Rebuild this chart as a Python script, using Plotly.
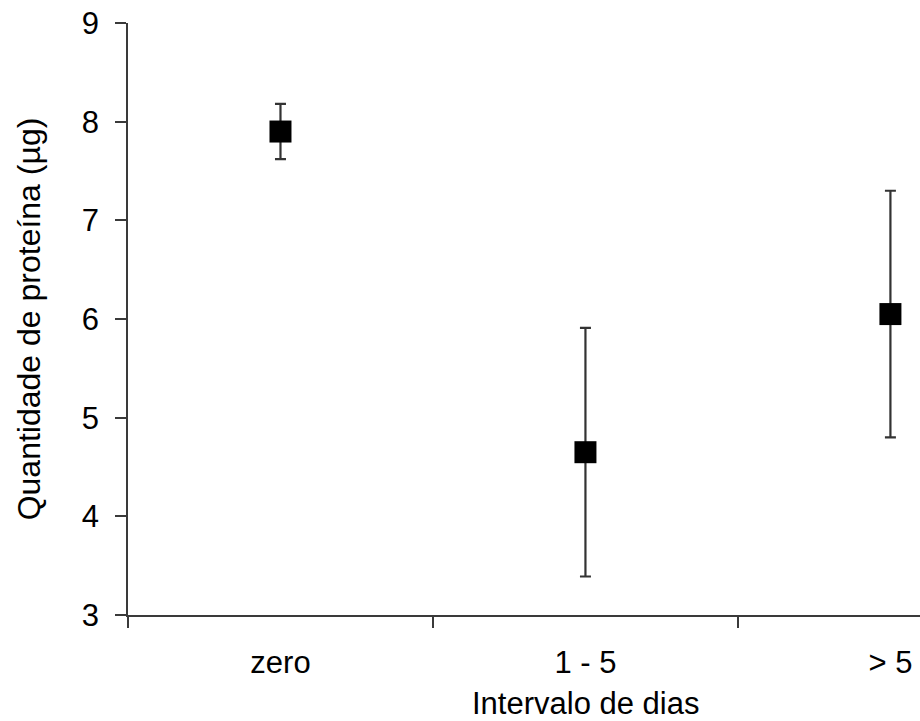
import plotly.graph_objects as go

# Protein amount by interval of days (mean ± error)
categories = ["zero", "1 - 5", "> 5"]
protein_mean = [7.9, 4.65, 6.05]
protein_err = [0.28, 1.26, 1.25]
y_ticks = [3, 4, 5, 6, 7, 8, 9]

positions = list(range(len(categories)))
boundaries = [p - 0.5 for p in positions]

FONT = "Liberation Sans, Arial, sans-serif"
AXIS_COLOR = "#3a3a3a"
FS = 31

fig = go.Figure()
fig.add_trace(go.Scatter(
    x=positions,
    y=protein_mean,
    mode="markers",
    marker=dict(symbol="square", size=22, color="black", line=dict(width=0)),
    error_y=dict(type="data", array=protein_err, visible=True,
                 color="#333333", thickness=2.2, width=5.5),
    showlegend=False,
))

# invisible trace to activate the category label axis
fig.add_trace(go.Scatter(x=positions, y=protein_mean, xaxis="x2", mode="markers",
                         marker=dict(opacity=0), hoverinfo="skip", showlegend=False))

fig.update_layout(
    width=920, height=721,
    margin=dict(l=128, r=0, t=23, b=106),
    paper_bgcolor="white",
    plot_bgcolor="white",
    font=dict(family=FONT, size=FS, color="black"),
    xaxis=dict(
        range=[-0.5, 2.097],
        tickvals=boundaries,
        ticktext=["" for _ in boundaries],
        ticks="outside", ticklen=11, tickwidth=1.5, tickcolor=AXIS_COLOR,
        showline=True, linecolor=AXIS_COLOR, linewidth=1.5,
        showgrid=False, zeroline=False,
    ),
    xaxis2=dict(
        overlaying="x", matches="x", side="bottom",
        tickvals=positions, ticktext=categories,
        ticks="", showline=False, showgrid=False, zeroline=False,
        ticklabelstandoff=26,
        tickfont=dict(size=FS),
    ),
    yaxis=dict(
        range=[3, 9],
        tickvals=y_ticks,
        ticks="outside", ticklen=11, tickwidth=1.5, tickcolor=AXIS_COLOR,
        showline=True, linecolor=AXIS_COLOR, linewidth=1.5,
        showgrid=False, zeroline=False,
        ticklabelstandoff=10,
        title=dict(text="Quantidade de proteína (µg)", font=dict(size=32), standoff=32),
    ),
)

# x-axis title, centred under the middle category
fig.add_annotation(
    text="Intervalo de dias", xref="x", yref="paper",
    x=positions[1], y=0, yshift=-88, yanchor="middle",
    showarrow=False, font=dict(size=FS),
)

fig.write_html("out.html")
